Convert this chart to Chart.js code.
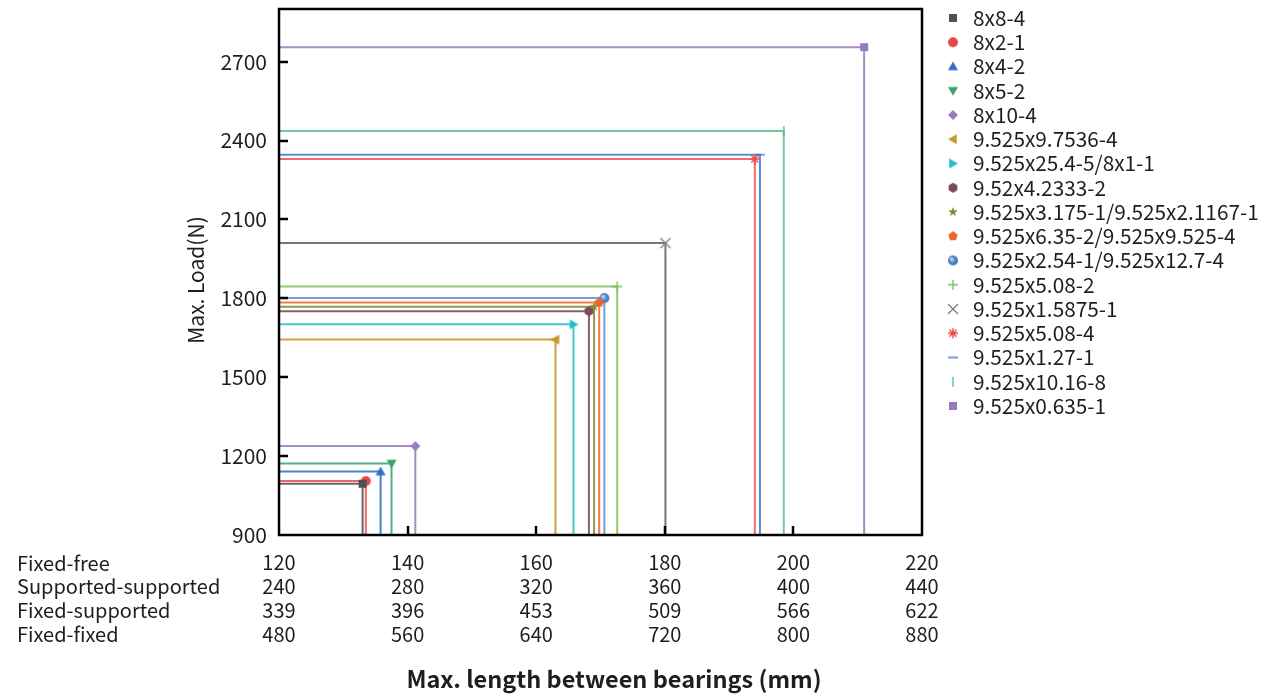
<!DOCTYPE html>
<html>
<head>
<meta charset="utf-8">
<script src="https://cdn.jsdelivr.net/npm/chart.js@4.4.1/dist/chart.umd.min.js"></script>
<style>
html,body{margin:0;padding:0;background:#fff;}
#wrap{width:1261px;height:695px;position:relative;}
</style>
</head>
<body>
<div id="wrap"><canvas id="c" width="1261" height="695"></canvas></div>
<script>
// ---------- data ----------
const seriesNames = [
  '8x8-4','8x2-1','8x4-2','8x5-2','8x10-4',
  '9.525x9.7536-4','9.525x25.4-5/8x1-1','9.52x4.2333-2',
  '9.525x3.175-1/9.525x2.1167-1','9.525x6.35-2/9.525x9.525-4',
  '9.525x2.54-1/9.525x12.7-4','9.525x5.08-2','9.525x1.5875-1',
  '9.525x5.08-4','9.525x1.27-1','9.525x10.16-8','9.525x0.635-1'
];
// max. length between bearings, fixed-free (mm)
const maxLength = [133.0,133.5,135.8,137.5,141.2,163.0,165.8,168.2,169.0,169.8,170.6,172.6,180.1,194.0,194.8,198.5,211.0];
// max. load (N)
const maxLoad   = [1095,1105,1141,1172,1238,1643,1701,1751,1768,1784,1801,1845,2010,2330,2346,2436,2755];

const xTicks = [120,140,160,180,200,220];
const supportedSupportedLabels = ['240','280','320','360','400','440'];
const fixedSupportedLabels     = ['339','396','453','509','566','622'];
const fixedFixedLabels         = ['480','560','640','720','800','880'];
const conditionNames = ['Fixed-free','Supported-supported','Fixed-supported','Fixed-fixed'];
const yTicks = [900,1200,1500,1800,2100,2400,2700];
const yMin = 900, yMax = 2900;

// ---------- styles ----------
const markerColors = ['#505050','#e8464b','#2f6fc2','#3aa36a','#9a7cc3','#c8962f','#22bfc6','#7a4b56',
  '#8a8a3a','#f0632a','#5b8fd0','#7cc25e','#808080','#f04848','#3a78d0','#5cc08c','#9a78c0'];
const lineColors = ['#666666','#ec6a6e','#4a82cc','#55b07e','#a68dc9','#cf9f3f','#45c8cf','#87606a',
  '#979752','#f27a48','#70a0d8','#8ccb72','#777777','#f06a6a','#5a8fd8','#74c99b','#a88dc9'];
const markerTypes = ['square','circle','triUp','triDown','diamond','triLeft','triRight','hexagon',
  'star5','pentagon','ball','plus','cross','asterisk','dash','vbar','square'];

const FONT = '"Noto Sans CJK SC","Noto Sans",sans-serif';
const TXT = '#1e1e1e';

function makeMarker(type, color, s) {
  const W = s + 4;
  const c = document.createElement('canvas');
  c.width = W; c.height = W;
  const g = c.getContext('2d');
  const m = W / 2, r = s / 2;
  g.fillStyle = color; g.strokeStyle = color; g.lineWidth = 1.4;
  const poly = (pts) => { g.beginPath(); pts.forEach((p,i)=> i? g.lineTo(m+p[0], m+p[1]) : g.moveTo(m+p[0], m+p[1])); g.closePath(); g.fill(); };
  const reg = (n, rad, rot) => { const pts=[]; for (let i=0;i<n;i++){const a=rot+i*2*Math.PI/n; pts.push([rad*Math.cos(a), rad*Math.sin(a)]);} poly(pts); };
  switch (type) {
    case 'square': g.fillRect(m-r*0.8, m-r*0.8, r*1.6, r*1.6); break;
    case 'circle': g.beginPath(); g.arc(m, m, r, 0, Math.PI*2); g.fill(); break;
    case 'triUp': poly([[0,-r],[r,r*0.75],[-r,r*0.75]]); break;
    case 'triDown': poly([[0,r],[r,-r*0.75],[-r,-r*0.75]]); break;
    case 'triLeft': poly([[-r,0],[r*0.75,-r],[r*0.75,r]]); break;
    case 'triRight': poly([[r,0],[-r*0.75,-r],[-r*0.75,r]]); break;
    case 'diamond': poly([[0,-r],[r,0],[0,r],[-r,0]]); break;
    case 'hexagon': reg(6, r, Math.PI/6); break;
    case 'pentagon': reg(5, r, -Math.PI/2); break;
    case 'star5': { const pts=[]; for (let i=0;i<10;i++){const a=-Math.PI/2+i*Math.PI/5; const rr = i%2? r*0.42 : r; pts.push([rr*Math.cos(a), rr*Math.sin(a)]);} poly(pts); break; }
    case 'ball': { const gr = g.createRadialGradient(m-r*0.35, m-r*0.35, r*0.1, m, m, r);
      gr.addColorStop(0, '#c8dcf2'); gr.addColorStop(0.5, color); gr.addColorStop(1, '#3d6fae');
      g.fillStyle = gr; g.beginPath(); g.arc(m, m, r, 0, Math.PI*2); g.fill(); break; }
    case 'plus': g.beginPath(); g.moveTo(m-r,m); g.lineTo(m+r,m); g.moveTo(m,m-r); g.lineTo(m,m+r); g.stroke(); break;
    case 'cross': g.beginPath(); g.moveTo(m-r,m-r); g.lineTo(m+r,m+r); g.moveTo(m+r,m-r); g.lineTo(m-r,m+r); g.stroke(); break;
    case 'asterisk': g.beginPath();
      for (let i=0;i<4;i++){const a=i*Math.PI/4; g.moveTo(m-r*Math.cos(a), m-r*Math.sin(a)); g.lineTo(m+r*Math.cos(a), m+r*Math.sin(a));}
      g.stroke(); break;
    case 'dash': g.beginPath(); g.moveTo(m-r,m); g.lineTo(m+r,m); g.stroke(); break;
    case 'vbar': g.beginPath(); g.moveTo(m,m-r); g.lineTo(m,m+r); g.stroke(); break;
  }
  return c;
}

const markers = markerTypes.map((t,i) => makeMarker(t, markerColors[i], 10));

const datasets = seriesNames.map((name, i) => ({
  label: name,
  data: [{x: xTicks[0], y: maxLoad[i]}, {x: maxLength[i], y: maxLoad[i]}, {x: maxLength[i], y: yMin}],
  borderColor: lineColors[i],
  backgroundColor: markerColors[i],
  borderWidth: 2,
  pointStyle: markers[i],
  pointRadius: [0, 5, 0],
  pointHoverRadius: 0,
  tension: 0,
  fill: false
}));

const decoPlugin = {
  id: 'deco',
  afterDatasetsDraw(chart) {
    const {ctx, chartArea: ca, scales: {x, y}} = chart;
    ctx.save();
    ctx.strokeStyle = '#000'; ctx.lineWidth = 2.5;
    ctx.strokeRect(ca.left, ca.top, ca.right - ca.left, ca.bottom - ca.top);
    ctx.beginPath();
    yTicks.forEach(v => { if (v > yMin) { const py = Math.round(y.getPixelForValue(v)); ctx.moveTo(ca.left, py); ctx.lineTo(ca.left + 9, py); } });
    xTicks.forEach((v, i) => { if (i > 0 && i < xTicks.length - 1) { const px = Math.round(x.getPixelForValue(v)); ctx.moveTo(px, ca.bottom); ctx.lineTo(px, ca.bottom - 9); } });
    ctx.stroke();
    ctx.restore();
  },
  afterDraw(chart) {
    const {ctx} = chart;
    ctx.save();
    ctx.fillStyle = TXT;
    ctx.textAlign = 'left'; ctx.textBaseline = 'middle';
    ctx.font = '20px ' + FONT;
    conditionNames.forEach((n, i) => ctx.fillText(n, 17, 563 + i * 23.8));
    ctx.font = '20.8px ' + FONT;
    seriesNames.forEach((n, i) => {
      const cy = 18 + i * 24.25;
      ctx.drawImage(markers[i], 953 - markers[i].width / 2, cy - markers[i].height / 2);
      ctx.fillText(n, 973, cy);
    });
    ctx.font = 'bold 23.5px ' + FONT; ctx.textAlign = 'center';
    ctx.fillText('Max. length between bearings (mm)', 614, 679);
    ctx.translate(196, 280); ctx.rotate(-Math.PI / 2);
    ctx.font = '21px ' + FONT;
    ctx.fillText('Max. Load(N)', 0, 0);
    ctx.restore();
  }
};

new Chart(document.getElementById('c'), {
  type: 'line',
  data: { datasets },
  options: {
    responsive: false,
    animation: false,
    devicePixelRatio: 1,
    layout: { padding: { left: 0, right: 339, top: 9, bottom: 0 } },
    plugins: { legend: { display: false }, tooltip: { enabled: false } },
    scales: {
      x: {
        type: 'linear', min: xTicks[0], max: xTicks[xTicks.length - 1],
        afterBuildTicks: s => { s.ticks = xTicks.map(v => ({value: v})); },
        afterFit: s => { s.height = 160; s.paddingLeft = 0; s.paddingRight = 0; },
        grid: { display: false, drawTicks: false },
        border: { display: false },
        ticks: {
          autoSkip: false, maxRotation: 0, padding: 16, color: TXT,
          font: { family: FONT, size: 20, lineHeight: 1.19 },
          callback: (v) => { const i = xTicks.indexOf(v); return [String(xTicks[i]), supportedSupportedLabels[i], fixedSupportedLabels[i], fixedFixedLabels[i]]; }
        }
      },
      y: {
        type: 'linear', min: yMin, max: yMax,
        afterBuildTicks: s => { s.ticks = yTicks.map(v => ({value: v})); },
        afterFit: s => { s.width = 279; s.paddingTop = 0; s.paddingBottom = 0; },
        grid: { display: false, drawTicks: false },
        border: { display: false },
        ticks: { padding: 12, color: TXT, font: { family: FONT, size: 21 }, callback: v => String(v) }
      }
    }
  },
  plugins: [decoPlugin]
});
</script>
</body>
</html>
